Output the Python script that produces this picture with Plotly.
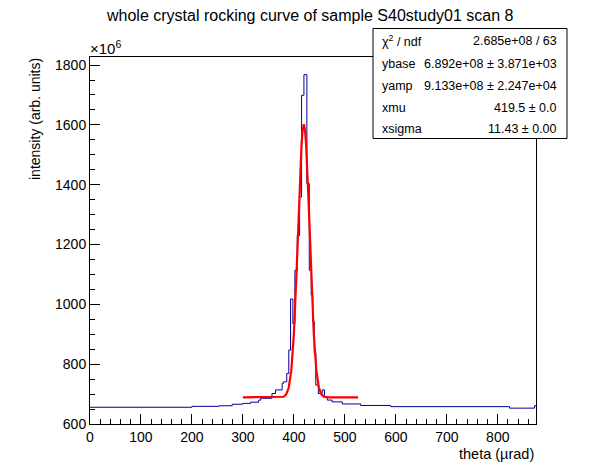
import plotly.graph_objects as go

# histogram bin edges (theta, urad) and contents (x10^6 counts)
bin_edges = [0, 200, 253, 279, 299, 315, 331, 335, 357, 364,
             377, 380, 386, 390, 393.5, 398, 402, 406.7, 411.2, 415.1,
             419.7, 425.5, 430.2, 434, 437, 440, 443, 448, 455.6, 460,
             465.5, 475, 495, 531, 590, 823, 872, 875]
bin_values = [656, 659, 661, 666, 669, 673, 680, 686, 702, 714,
              736, 741, 769, 847, 1018, 936, 1114, 1230, 1359, 1699,
              1768, 1404, 1114, 1031, 942, 837, 730, 702, 714, 691,
              680, 674, 667, 662, 658, 653, 661]

# fitted curve as drawn (red)
fit_x = [300, 370, 380, 385, 390, 395, 400, 405, 410, 415, 417, 419.5,
         422, 424, 429, 434, 439, 444, 449, 454, 459, 469, 526]
fit_y = [689, 689, 691, 699, 722, 780, 902, 1097, 1336, 1534, 1580, 1602,
         1580, 1534, 1336, 1097, 902, 780, 722, 699, 691, 689, 689]

# stats box rows
stat_names = ["\u03c7<sup>2</sup> / ndf", "ybase", "yamp", "xmu", "xsigma"]
stat_values = ["2.685e+08 / 63", "6.892e+08 \u00b1 3.871e+03",
               "9.133e+08 \u00b1 2.247e+04", "419.5 \u00b1 0.0", "11.43 \u00b1 0.00"]

FONT = "Liberation Sans, Arial, Helvetica, sans-serif"

# the page puts the plot 8px in from the corner, so the figure is 8px smaller
OFF = 8
W, H = 596 - OFF, 472 - OFF
# frame as it appears on the page, in pixels
L, R, T, B = 90, 536, 57, 424
pw, ph = R - L, B - T


def px(x):
    return (x - L) / pw


def py(y):
    return (B - y) / ph


fig = go.Figure()
fig.add_trace(go.Scatter(x=bin_edges, y=bin_values + [bin_values[-1]],
                         mode="lines", line=dict(color="#000099", width=1, shape="hv"),
                         hoverinfo="skip"))
fig.add_trace(go.Scatter(x=fit_x, y=fit_y, mode="lines",
                         line=dict(color="#ff0000", width=2.2), hoverinfo="skip"))

axis_common = dict(showgrid=False, zeroline=False, showline=True, mirror=True,
                   linecolor="black", linewidth=1, ticks="inside", tickcolor="black",
                   ticklen=10, tickwidth=1, tickfont=dict(family=FONT, size=14, color="black"))
fig.update_xaxes(range=[0, 875], dtick=100, tick0=0,
                 minor=dict(dtick=20, ticklen=5, ticks="inside", tickcolor="black"),
                 **axis_common)
fig.update_yaxes(range=[600, 1827], dtick=200, tick0=600,
                 minor=dict(dtick=50, ticklen=5, ticks="inside", tickcolor="black"),
                 **axis_common)

ann = []
ann.append(dict(text="whole crystal rocking curve of sample S40study01 scan 8",
                x=px(310), y=py(15), xanchor="center", yanchor="middle",
                font=dict(size=16)))
ann.append(dict(text="theta (\u00b5rad)", x=1, y=py(454), xanchor="right",
                yanchor="middle", font=dict(size=14.5)))
ann.append(dict(text="intensity (arb. units)", x=px(35), y=py(119), textangle=-90,
                xanchor="center", yanchor="middle", font=dict(size=14)))
ann.append(dict(text="\u00d710<sup>6</sup>", x=px(88), y=py(47), xanchor="left",
                yanchor="middle", font=dict(size=15)))
row_y = [41, 64, 86, 108, 129]
for name, val, ry in zip(stat_names, stat_values, row_y):
    ann.append(dict(text=name, x=px(380), y=py(ry), xanchor="left", yanchor="middle",
                    font=dict(size=12.5)))
    ann.append(dict(text=val, x=px(559), y=py(ry), xanchor="right", yanchor="middle",
                    font=dict(size=12.5)))
for a in ann:
    a.update(xref="paper", yref="paper", showarrow=False)
    a["font"].update(family=FONT, color="black")

fig.update_layout(
    width=W, height=H,
    margin=dict(l=L - OFF, r=W - (R - OFF), t=T - OFF, b=H - (B - OFF), pad=0),
    paper_bgcolor="white", plot_bgcolor="white",
    showlegend=False,
    annotations=ann,
    shapes=[dict(type="rect", xref="paper", yref="paper", layer="above",
                 x0=px(373), x1=px(567), y0=py(138.5), y1=py(28.5),
                 fillcolor="white", line=dict(color="black", width=1))],
)

fig.write_html("out.html")
